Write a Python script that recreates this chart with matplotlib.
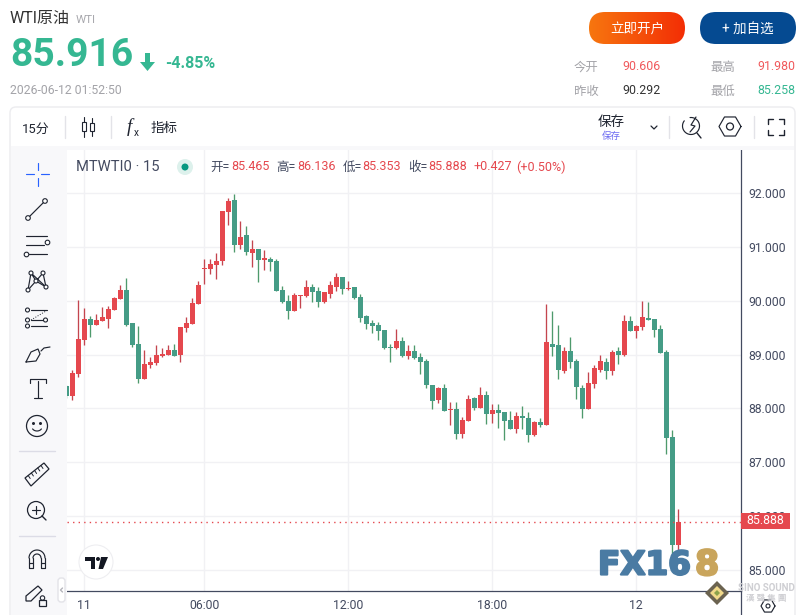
#! /usr/bin/env python3

# WTI 15 minute candlestick page, redrawn with matplotlib

import matplotlib
matplotlib.use('Agg')
import matplotlib.pyplot as plt
import matplotlib.patheffects as pe
import numpy as np
from matplotlib.patches import Circle, FancyBboxPatch, Polygon, Rectangle

plt.rcParams['font.family'] = ['Roboto', 'Noto Sans CJK SC', 'DejaVu Sans']

# Candle values
opens = [88.416, 88.230, 88.640, 89.272, 89.663, 89.551, 89.626, 89.663, 89.830, 90.035,
         90.202, 89.589, 89.198, 88.547, 88.807, 88.844, 88.975, 88.993, 89.086, 88.993,
         89.496, 89.570, 89.942, 90.593, 90.593, 90.668, 90.742, 91.654, 91.877, 91.040,
         91.226, 90.891, 90.965, 90.761, 90.779, 90.742, 90.202, 89.998, 89.812, 90.091,
         90.091, 90.259, 90.184, 89.980, 90.128, 90.259, 90.445, 90.221, 90.259, 90.073,
         89.719, 89.589, 89.552, 89.459, 89.142, 89.124, 89.254, 88.975, 89.068, 88.956,
         88.882, 88.435, 88.156, 88.380, 87.970, 87.989, 87.524, 87.766, 88.194, 88.008,
         88.249, 87.896, 87.970, 87.933, 87.784, 87.617, 87.859, 87.822, 87.505, 87.747,
         87.691, 89.198, 89.180, 88.696, 89.068, 88.882, 88.380, 87.989, 88.454, 88.715,
         88.863, 88.696, 89.068, 88.994, 89.626, 89.440, 89.515, 89.682, 89.663, 89.477,
         89.050, 87.468, 85.465]
highs = [88.440, 88.714, 90.016, 89.868, 89.719, 89.756, 89.886, 89.905, 90.072, 90.296,
         90.426, 89.589, 89.533, 89.086, 88.956, 89.179, 89.123, 89.179, 89.198, 89.514,
         89.700, 90.054, 90.370, 90.779, 90.779, 90.891, 91.672, 91.914, 91.989, 91.486,
         91.393, 91.133, 90.965, 90.947, 90.816, 90.779, 90.277, 90.109, 90.147, 90.110,
         90.389, 90.314, 90.259, 90.166, 90.370, 90.519, 90.445, 90.370, 90.259, 90.128,
         89.738, 89.645, 89.608, 89.459, 89.198, 89.477, 89.328, 89.180, 89.180, 89.031,
         88.919, 88.435, 88.398, 88.454, 88.119, 88.119, 87.840, 88.249, 88.212, 88.398,
         88.324, 88.082, 88.082, 87.933, 87.952, 87.933, 88.045, 87.933, 87.766, 87.822,
         89.943, 89.812, 89.552, 89.143, 89.329, 88.919, 88.436, 88.677, 88.808, 88.994,
         88.938, 89.087, 89.143, 89.738, 89.719, 89.552, 89.998, 89.980, 89.663, 89.552,
         89.087, 87.598, 86.136]
lows = [88.200, 88.156, 88.590, 89.179, 89.328, 89.551, 89.626, 89.496, 89.830, 90.035,
        89.533, 89.142, 88.472, 88.547, 88.751, 88.807, 88.956, 88.993, 88.975, 88.863,
        89.421, 89.570, 89.942, 90.314, 90.500, 90.407, 90.668, 91.412, 90.909, 90.965,
        90.854, 90.630, 90.351, 90.575, 90.556, 90.184, 89.961, 89.663, 89.812, 89.868,
        90.073, 89.980, 89.887, 89.961, 90.054, 90.184, 90.128, 90.203, 90.035, 89.608,
        89.477, 89.403, 89.273, 89.105, 88.863, 89.105, 88.956, 88.919, 88.919, 88.640,
        88.380, 87.989, 88.101, 87.952, 87.691, 87.431, 87.449, 87.766, 87.970, 88.008,
        87.710, 87.728, 87.635, 87.412, 87.617, 87.543, 87.617, 87.375, 87.487, 87.654,
        87.691, 88.975, 88.547, 88.659, 88.752, 88.175, 87.822, 87.989, 88.380, 88.677,
        88.547, 88.622, 88.826, 88.975, 89.440, 89.310, 89.459, 89.645, 89.329, 89.031,
        87.152, 85.258, 85.353]
closes = [88.230, 88.658, 89.291, 89.663, 89.551, 89.644, 89.700, 89.849, 90.054, 90.202,
          89.551, 89.179, 88.547, 88.826, 88.863, 88.993, 89.012, 89.086, 88.975, 89.514,
          89.589, 89.961, 90.296, 90.612, 90.686, 90.742, 91.672, 91.858, 91.040, 91.189,
          90.909, 90.965, 90.761, 90.798, 90.723, 90.184, 89.979, 89.812, 90.110, 90.110,
          90.259, 90.166, 89.980, 90.166, 90.296, 90.445, 90.221, 90.240, 90.054, 89.682,
          89.570, 89.533, 89.440, 89.124, 89.124, 89.254, 88.975, 89.068, 88.938, 88.863,
          88.435, 88.138, 88.380, 87.952, 87.989, 87.524, 87.784, 88.175, 88.008, 88.249,
          87.896, 87.970, 87.914, 87.766, 87.617, 87.859, 87.822, 87.505, 87.747, 87.691,
          89.236, 89.143, 88.715, 89.068, 88.863, 88.398, 87.989, 88.473, 88.752, 88.882,
          88.696, 89.050, 88.994, 89.626, 89.440, 89.533, 89.701, 89.645, 89.459, 89.031,
          87.450, 85.459, 85.888]

price_ticks = [85, 86, 87, 88, 89, 90, 91, 92]
time_ticks = [4, 24, 48, 72, 96]
time_labels = ['11', '06:00', '12:00', '18:00', '12']

up_body, up_wick = '#E5484E', '#C4454F'
dn_body, dn_wick = '#459C86', '#4E9A6C'
ink = '#434A60'
W, H = 805, 615

fig = plt.figure(figsize=(W / 100, H / 100), dpi=100, facecolor='white')

# Price pane
ax = fig.add_axes([67 / W, 1 - 591 / H, 674 / W, 441 / H])
index = np.arange(1, len(opens) + 1)
o, h, l, c = map(np.array, (opens, highs, lows, closes))
rising = c >= o
ax.vlines(index, l, h, colors=np.where(rising, up_wick, dn_wick), linewidth=0.95, zorder=3)
ax.bar(index, np.maximum(np.abs(c - o), 0.02), bottom=np.minimum(o, c), width=0.83,
       color=np.where(rising, up_body, dn_body), linewidth=0, zorder=4)
ax.axhline(closes[-1], color=up_body, linestyle=(0, (1, 3)), linewidth=1.0, zorder=5)

ax.set_xlim(1.11, 113.44)
ax.set_ylim(84.603, 92.807)
ax.yaxis.tick_right()
ax.set_yticks(price_ticks)
ax.set_yticklabels(['%.3f' % p for p in price_ticks])
ax.set_xticks(time_ticks)
ax.set_xticklabels(time_labels)
ax.tick_params(length=0, labelsize=8.8, labelcolor=ink)
ax.tick_params(axis='y', pad=5)
ax.tick_params(axis='x', pad=6)
ax.grid(color='#F1F1F4', linewidth=1.0)
ax.set_axisbelow(True)
for name in ('top', 'left'):
    ax.spines[name].set_visible(False)
for name in ('right', 'bottom'):
    ax.spines[name].set_color(ink)
    ax.spines[name].set_linewidth(0.9)

# Page furniture in pixel coordinates
ui = fig.add_axes([0, 0, 1, 1], zorder=10)
ui.set_xlim(0, W)
ui.set_ylim(H, 0)
ui.axis('off')
ui.patch.set_alpha(0)


def txt(x, y, s, px, color, ha='left', **kw):
    ui.text(x, y + 1, s, fontsize=px * 0.72, color=color, ha=ha, va='center', **kw)


def line(xs, ys, color='#1F2430', lw=0.85, **kw):
    ui.plot(xs, ys, color=color, linewidth=lw, solid_capstyle='round', **kw)


def dot(x, y, r=2.3, color='#1F2430'):
    ui.add_patch(Circle((x, y), r, facecolor='white', edgecolor=color, linewidth=0.8, zorder=6))


def button(x, y, w, h, face='none', edge='none', lw=1.0, r=16):
    p = FancyBboxPatch((x + r, y + r), w - 2 * r, h - 2 * r, boxstyle='round,pad=%d,rounding_size=%d' % (r, r),
                       facecolor=face, edgecolor=edge, linewidth=lw)
    ui.add_patch(p)
    return p


# Heading
txt(10, 18, 'WTI原油', 16, '#333333')
txt(76, 19, 'WTI', 11.5, '#A9A9AE')
txt(10, 54, '85.916', 39, '#35B792', fontweight='bold')
ui.add_patch(Polygon([(145, 53), (150, 53), (150, 62), (155, 62), (147.5, 71), (140, 62), (145, 62)],
                     facecolor='#35B792', edgecolor='none'))
txt(165, 63, '-4.85%', 16, '#35B792', fontweight='bold')
txt(10, 89, '2026-06-12 01:52:50', 12.3, '#A3A3A8')

# Buttons
grad = np.linspace(0, 1, 200).reshape(1, -1)
cmap = matplotlib.colors.LinearSegmentedColormap.from_list('btn', ['#F7760F', '#F32E05'])
img = ui.imshow(grad, extent=(589, 685, 44, 12), cmap=cmap, aspect='auto', zorder=1)
img.set_clip_path(button(589, 12, 96, 32))
button(700, 12, 96, 32, face='#054A91')
ui.set_xlim(0, W)
ui.set_ylim(H, 0)
txt(637, 29, '立即开户', 13.5, 'white', ha='center', zorder=3)
txt(748, 29, '+ 加自选', 13.5, 'white', ha='center', zorder=3)

# Quote table
for x, y, s, col in [(574, 66, '今开', '#A3A3A8'), (622, 66, '90.606', '#F0595C'),
                     (710, 66, '最高', '#A3A3A8'), (757, 66, '91.980', '#F0595C'),
                     (574, 90, '昨收', '#A3A3A8'), (622, 90, '90.292', '#333333'),
                     (710, 90, '最低', '#A3A3A8'), (757, 90, '85.258', '#35B792')]:
    txt(x, y, s, 12.4, col)

# Chart frame, top bar and left bar
button(10, 107, 785, 520, edge='#ECECEF', r=6)
ui.add_patch(Rectangle((11, 146), 783, 4, facecolor='#F8F8FA', edgecolor='none'))
ui.add_patch(Rectangle((11, 150), 56, 465, facecolor='#F8F8FA', edgecolor='none'))
txt(22, 128, '15分', 13, '#1F2430')
for x in (65, 111, 669, 754):
    line([x, x], [116, 138], color='#E3E3E8', lw=1.0)
line([84, 84], [117, 137], lw=0.8)
line([92, 92], [118, 136], lw=0.8)
ui.add_patch(Rectangle((82, 122), 4, 9, facecolor='white', edgecolor='#1F2430', linewidth=0.8, zorder=5))
ui.add_patch(Rectangle((90, 123), 4, 8, facecolor='white', edgecolor='#1F2430', linewidth=0.8, zorder=5))
txt(127, 126, 'f', 19, '#1F2430', style='italic', family='Liberation Serif')
txt(134, 132, 'x', 10, '#1F2430')
txt(151, 127, '指标', 13.5, '#1F2430')
txt(611, 121, '保存', 13.5, '#1F2430', ha='center')
txt(611, 135, '保存', 9.5, '#6E6CF2', ha='center')
line([651, 654, 657], [126, 129, 126], lw=0.9)
# Alert, hexagon, fullscreen icons
t = np.linspace(0.4, 2 * np.pi - 0.4, 40)
line(691 + 8.5 * np.cos(t + 4.2), 126 + 8.5 * np.sin(t + 4.2))
line([696, 691, 695, 690], [117, 125, 126, 132])
line([697, 701], [133, 138], lw=1.0)
a = np.radians(np.arange(0, 361, 60))
line(730 + 11 * np.cos(a), 126.5 + 11 * np.sin(a))
ui.add_patch(Circle((730, 126.5), 3.5, facecolor='none', edgecolor='#1F2430', linewidth=0.9))
for sx, sy in [(768, 119), (784, 119), (768, 135), (784, 135)]:
    dx = 5 if sx < 776 else -5
    dy = 5 if sy < 127 else -5
    line([sx + dx, sx, sx], [sy, sy, sy + dy], lw=1.0)

# Drawing tools down the left bar
blue = '#2962FF'
line([26, 34], [174, 174], color=blue)
line([41, 49], [174, 174], color=blue)
line([37.5, 37.5], [163, 170], color=blue)
line([37.5, 37.5], [178, 186], color=blue)
line([28, 45], [218, 201])
dot(28, 218)
dot(45, 201)
for y, x0, x1 in [(236, 26, 47), (245, 26, 44), (254, 29, 47)]:
    line([x0, x1], [y, y])
dot(47.5, 242.5)
dot(26.5, 254.5)
pts = [(28, 290), (31, 273), (36, 281), (43, 273), (46, 287)]
line([p[0] for p in pts] + [31], [p[1] for p in pts] + [273])
line([28, 36, 46], [290, 281, 287])
for p in pts:
    dot(p[0], p[1], r=2.0)
for y, x0 in [(310, 31), (320, 31), (326, 31)]:
    line([x0, 47], [y, y])
line([31, 46], [320, 311], lw=0.7, linestyle=':')
for x, y in [(27.5, 310), (27.5, 320), (45.5, 320), (27.5, 326)]:
    dot(x, y, r=2.0)
line([26, 31, 38, 40, 36, 26], [362, 352, 349, 354, 361, 362])
line([41, 44, 50], [351, 348, 347])
line([38, 38], [381, 398])
line([30, 30, 46, 46], [383, 379, 379, 383])
line([34, 42], [398, 398])
ui.add_patch(Circle((37, 426), 10.5, facecolor='none', edgecolor='#1F2430', linewidth=0.9))
ui.add_patch(Circle((33.5, 423.5), 0.8, color='#1F2430'))
ui.add_patch(Circle((40.5, 423.5), 0.8, color='#1F2430'))
t = np.linspace(0.5, np.pi - 0.5, 15)
line(37 + 5 * np.cos(t), 427 + 4 * np.sin(t))
line([19, 55], [450.5, 450.5], color='#DCDCE6', lw=1.0)
ui.add_patch(Polygon([(25, 478), (44, 463), (49, 469), (31, 486)], facecolor='none',
                     edgecolor='#1F2430', linewidth=0.9))
for k in range(1, 6):
    bx, by = 25 + k * 3.2, 478 - k * 2.5
    line([bx, bx + 2], [by, by + 3], lw=0.7)
ui.add_patch(Circle((36, 510), 8.5, facecolor='none', edgecolor='#1F2430', linewidth=0.9))
line([32, 40], [510, 510])
line([36, 36], [506, 514])
line([42, 46], [516, 520], lw=1.0)
line([19, 55], [535.5, 535.5], color='#DCDCE6', lw=1.0)
# Magnet
t = np.linspace(np.pi, 2 * np.pi, 20)
line(37 + 8 * np.cos(t), 558 + 8 * np.sin(t))
line(37 + 4 * np.cos(t), 558 + 4 * np.sin(t))
line([29, 29, 33, 33], [558, 568, 568, 558])
line([41, 41, 45, 45], [558, 568, 568, 558])
line([29, 33], [563, 563])
line([41, 45], [563, 563])
ui.add_patch(Polygon([(26, 596), (38, 586), (42, 590), (31, 601), (26, 601)], facecolor='none',
                     edgecolor='#1F2430', linewidth=0.9))
ui.add_patch(Rectangle((39, 600), 7, 6, facecolor='#F8F8FA', edgecolor='#1F2430', linewidth=0.9))
ui.add_patch(Circle((42.5, 598), 2.2, facecolor='none', edgecolor='#1F2430', linewidth=0.8))
button(58, 578, 7, 24, face='white', edge='#E3E3E8', r=3)
line([62.5, 60.5, 62.5], [588, 590, 592], color='#B5B5BC', lw=1.0)

# Legend strip over the pane
txt(76, 166, 'MTWTI0 · 15', 14.8, ink)
ui.add_patch(Circle((185, 167), 8, facecolor='#DDF1EC', edgecolor='none'))
ui.add_patch(Circle((185, 167), 3.5, facecolor='#089981', edgecolor='none'))
for x, s, col in [(210.5, '开=', ink), (231, '85.465', up_body), (276.5, '高=', ink), (297, '86.136', up_body),
                  (342.5, '低=', ink), (362.5, '85.353', up_body), (408, '收=', ink), (428.5, '85.888', up_body),
                  (473.5, '+0.427', up_body), (516.5, '(+0.50%)', up_body)]:
    txt(x, 166, s, 12.5, col)

# Last price tag, scale extension and logos
line([741, 741], [591, 615], color=ink, lw=0.9)
ui.add_patch(Rectangle((741, 513), 49, 16, facecolor=up_body, edgecolor='none'))
txt(765.5, 520, '%.3f' % closes[-1], 12.4, 'white', ha='center')
ui.add_patch(Circle((96, 562), 17, facecolor='white', edgecolor='#EEEEF1', linewidth=0.8))
ui.add_patch(Polygon([(85, 557), (95, 557), (95, 569), (91, 569), (91, 561), (85, 561)], facecolor='#131722'))
ui.add_patch(Circle((98, 559), 2, facecolor='#131722'))
ui.add_patch(Polygon([(101, 557), (108, 557), (103, 569), (98.5, 569)], facecolor='#131722'))
heavy = [pe.withStroke(linewidth=1.6, foreground='#4A7BA3')]
ui.text(598, 565, 'FX16', fontsize=23.5, family='DejaVu Sans', fontweight='bold', color='#4A7BA3',
        va='center', path_effects=heavy)
ui.text(695, 565, '8', fontsize=25, family='DejaVu Sans', fontweight='bold', color='#C9A55C', va='center',
        path_effects=[pe.withStroke(linewidth=1.6, foreground='#C9A55C')])
ui.add_patch(Polygon([(717, 581), (729, 593), (717, 605), (705, 593)], facecolor='#6B6350', edgecolor='none'))
ui.add_patch(Polygon([(717, 586), (724, 593), (717, 600), (710, 593)], facecolor='#F1D98A', edgecolor='none'))
ui.add_patch(Polygon([(717, 590), (720, 593), (717, 596), (714, 593)], facecolor='#8BA24B', edgecolor='none'))
txt(766, 587, 'SINO SOUND', 9.8, '#CFCFD3', ha='center', fontweight='bold')
txt(766, 597, '漢 聲 集 團', 8.5, '#CFCFD3', ha='center', fontweight='bold')
a = np.radians(np.arange(0, 361, 60))
line(768 + 7 * np.cos(a), 606 + 7 * np.sin(a))
ui.add_patch(Circle((768, 606), 2, facecolor='none', edgecolor='#1F2430', linewidth=0.8))

fig.savefig('out.png', dpi=100)
